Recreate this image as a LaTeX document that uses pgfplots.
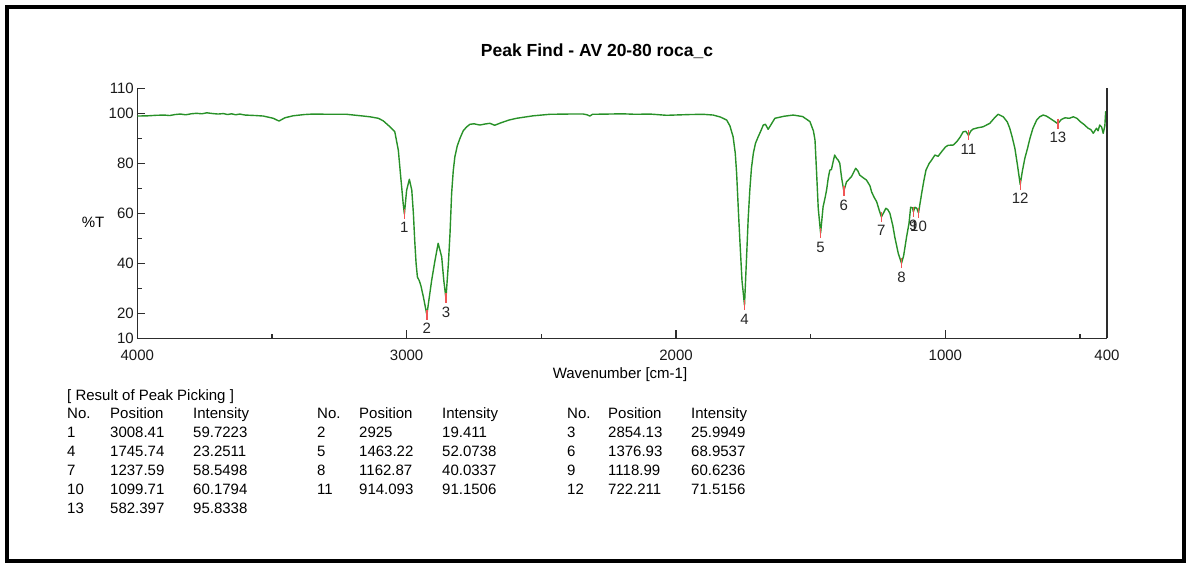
\documentclass[border=0pt]{standalone}
\usepackage{fontspec}
\setmainfont{Liberation Sans}
\usepackage{pgfplots}
\usepackage{pgfplotstable}
\pgfplotsset{compat=1.18}
\definecolor{spec}{RGB}{40,145,40}
\definecolor{pk}{RGB}{240,85,85}
\definecolor{axc}{RGB}{45,45,45}

\pgfplotstableread{
w t
4000 98.9
3960 99.0
3930 99.2
3900 99.3
3880 99.1
3860 99.5
3840 99.7
3820 99.4
3800 99.8
3780 100.0
3760 99.8
3742 100.2
3720 99.9
3700 99.7
3680 99.9
3665 99.5
3650 99.8
3635 99.4
3620 99.7
3600 99.3
3560 99.1
3532 98.9
3495 98.0
3474 96.9
3452 98.2
3422 99.0
3380 99.5
3347 99.7
3285 99.6
3223 99.6
3161 98.9
3136 98.6
3105 98.0
3087 97.0
3062 94.6
3044 92.6
3031 85.3
3022 74.6
3013 64.0
3008.41 59.72
3000 69.3
2990 73.6
2981 69.3
2975 60
2970 49
2965 40
2960 34.5
2953 33
2947 31
2938 26.6
2925 19.41
2907 33.3
2895 41
2883 48
2870 42.6
2862 33
2854.13 25.99
2845 40
2839 52
2833 68
2827 77
2821 82.6
2812 87
2802 90
2790 93
2777 94.6
2765 95.6
2750 95.8
2728 95.3
2710 95.7
2691 96.0
2673 95.2
2650 96.2
2620 97.3
2592 98.0
2530 99.0
2468 99.6
2400 99.7
2344 99.7
2330 99.4
2320 98.9
2310 99.6
2250 99.7
2200 99.8
2150 99.6
2097 99.7
2035 99.2
1950 99.5
1900 99.6
1862 99.3
1835 98.5
1812 97.3
1800 95
1788 90.6
1780 84
1775 76
1768 60
1763 49.3
1755 33
1745.74 23.25
1738 42.6
1732 58
1726 69.3
1720 78
1713 84
1705 88
1695 90.6
1685 93
1676 95.3
1668 95.6
1658 93.6
1650 95
1633 98
1600 98.8
1565 99.3
1530 98.7
1503 96.7
1490 93
1484 89.3
1478 76
1472 62
1463.22 52.07
1454 62.6
1447 66
1441 69.3
1435 74
1429 77.3
1423 77.5
1418 80
1411 83.3
1404 82
1398 81.3
1392 80
1385 74
1376.93 68.95
1367 72.6
1349 74.6
1333 78
1325 77
1318 75.3
1305 74.2
1293 73.3
1280 71
1274 68.6
1265 66.5
1255 64.6
1245 61
1237.59 58.55
1228 60.5
1221 62
1214 61.5
1206 60
1195 55
1188 50.6
1175 44
1162.87 40.03
1155 43
1144 50.6
1135 56
1129 62.4
1122 62.2
1118.99 60.62
1113 62.4
1106 62
1099.71 60.18
1094 64
1088 68
1080 73
1072 77.3
1060 80
1051 81.3
1039 83.3
1027 82.8
1015 84.5
1000 86.5
990 87.2
971 87.3
958 88.6
945 90.5
934 92.6
924 92.8
914.09 91.15
905 93
897 93.7
880 94.2
860 94.6
835 96
815 98.5
804 99.6
785 98.6
770 96.5
761 94
752 90.5
742 86
732 79
722.21 71.52
714 77
705 82
695 86
686 90
675 94
661 97.3
650 98.6
637 99.3
625 98.9
612 98
598 97
582.40 95.83
570 97.5
556 98.2
540 98.0
525 98.6
512 98.0
500 96.7
485 95.5
470 94
460 93.5
451 92
445 93
439 94
433 93
427 95.3
420 94.5
414 92
408 95
405 100.6
400 99
}\spectrum

\pgfplotstableread{
x y lab
3008.41 59.7223 1
2925 19.411 2
2854.13 25.9949 3
1745.74 23.2511 4
1463.22 52.0738 5
1376.93 68.9537 6
1237.59 58.5498 7
1162.87 40.0337 8
1118.99 60.6236 9
1099.71 60.1794 10
914.093 91.1506 11
722.211 71.5156 12
582.397 95.8338 13
}\peaks

\newcommand{\tf}{\fontsize{15}{18}\selectfont}

\begin{document}
\begin{tikzpicture}[x=1pt,y=1pt]
\path[use as bounding box] (0,0) rectangle (1190,566);
\draw[line width=4pt] (7,5) rectangle (1184,559);

\node[font=\bfseries\fontsize{17.5}{20}\selectfont, anchor=base] at (597,509.7) {Peak Find - AV 20-80 roca\_c};
\node[font=\tf] at (93,344) {\%T};
\node[font=\tf, anchor=base] at (620,187.6) {Wavenumber [cm-1]};

\begin{axis}[
  at={(137.3pt,227.7pt)}, anchor=south west,
  scale only axis, width=969.7pt, height=250pt,
  x dir=reverse, xmin=400, xmax=4000, ymin=10, ymax=110,
  axis x line*=bottom, axis y line*=left,
  axis line style={-, draw=axc, line width=1.5pt},
  tick align=inside,
  major tick length=8pt, minor tick length=4.5pt,
  every tick/.style={draw=axc, line width=1.3pt},
  xtick={400,1000,2000,3000,4000},
  xticklabels={400,1000,2000,3000,4000},
  minor xtick={500,1500,2500,3500},
  ytick={10,20,40,60,80,100,110},
  yticklabels={10,20,40,60,80,100,110},
  minor ytick={30,50,70,90},
  ticklabel style={font=\tf, text=black!90},
  xticklabel style={yshift=-8.5pt},
  /pgf/number format/assume math mode=true,
  clip=false,
]
\addplot[spec, line width=1.4pt, line join=round] table[x=w, y=t] {\spectrum};
\addplot[only marks, mark=|, mark size=5pt, pk, mark options={line width=1.3pt},
  point meta=explicit symbolic,
  nodes near coords, nodes near coords align={below},
  every node near coord/.append style={font=\fontsize{15}{17}\selectfont, text=black!85, inner sep=0pt, yshift=-8pt}]
  table[x=x, y=y, meta=lab] {\peaks};
\draw[axc, line width=1.5pt] (rel axis cs:1,0) -- (rel axis cs:1,1);
\end{axis}

\begin{scope}[every node/.style={font=\tf, anchor=base west, inner sep=0pt}]
\node at (67,165.6) {[ Result of Peak Picking ]};
% header
\node at (67,147.6) {No.};  \node at (110,147.6) {Position}; \node at (193,147.6) {Intensity};
\node at (317,147.6) {No.}; \node at (359,147.6) {Position}; \node at (442,147.6) {Intensity};
\node at (567,147.6) {No.}; \node at (608,147.6) {Position}; \node at (691,147.6) {Intensity};
% row 1
\node at (67,128.6) {1};  \node at (110,128.6) {3008.41}; \node at (193,128.6) {59.7223};
\node at (317,128.6) {2}; \node at (359,128.6) {2925};    \node at (442,128.6) {19.411};
\node at (567,128.6) {3}; \node at (608,128.6) {2854.13}; \node at (691,128.6) {25.9949};
% row 2
\node at (67,109.6) {4};  \node at (110,109.6) {1745.74}; \node at (193,109.6) {23.2511};
\node at (317,109.6) {5}; \node at (359,109.6) {1463.22}; \node at (442,109.6) {52.0738};
\node at (567,109.6) {6}; \node at (608,109.6) {1376.93}; \node at (691,109.6) {68.9537};
% row 3
\node at (67,90.6) {7};  \node at (110,90.6) {1237.59}; \node at (193,90.6) {58.5498};
\node at (317,90.6) {8}; \node at (359,90.6) {1162.87}; \node at (442,90.6) {40.0337};
\node at (567,90.6) {9}; \node at (608,90.6) {1118.99}; \node at (691,90.6) {60.6236};
% row 4
\node at (67,71.6) {10};  \node at (110,71.6) {1099.71}; \node at (193,71.6) {60.1794};
\node at (317,71.6) {11}; \node at (359,71.6) {914.093}; \node at (442,71.6) {91.1506};
\node at (567,71.6) {12}; \node at (608,71.6) {722.211}; \node at (691,71.6) {71.5156};
% row 5
\node at (67,52.6) {13};  \node at (110,52.6) {582.397}; \node at (193,52.6) {95.8338};
\end{scope}
\end{tikzpicture}
\end{document}
